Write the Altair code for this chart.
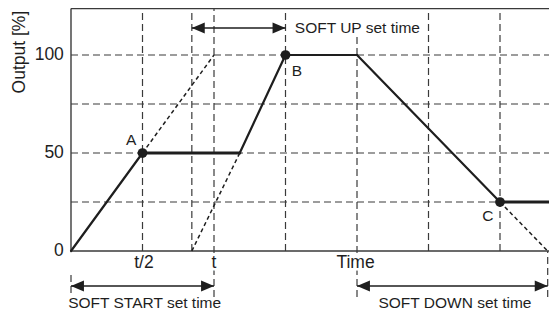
import altair as alt
import pandas as pd

# ---- layout of the diagram in data units (x: multiples of t/2, y: output %) ----
X_MIN, X_MAX = -0.8811, 6.6853
Y_MIN, Y_MAX = -31.12, 123.98

# main output curve (solid)
curve_u = [0, 1, 2.36, 3, 4, 6, 6.685]
curve_v = [0, 50, 50, 100, 100, 25, 25]
curve_w = [2.2, 3.2, 2.2, 2.2, 2.2, 3.2]

# thin dashed extensions
ext_u1 = [1, 1.69, 6]
ext_v1 = [50, 0, 25]
ext_u2 = [2, 2.36, 6.667]
ext_v2 = [100, 50, 0]

# marked points
pt_u = [1, 3, 6]
pt_v = [50, 100, 25]
pt_lab = ["A", "B", "C"]
pt_lab_u = [0.84, 3.16, 5.83]
pt_lab_v = [56.6, 91.8, 17.9]

# grid
hgrid_v = [25, 50, 75, 100]
vgrid_u = [1, 1.69, 2, 3, 4, 5, 6, 0, 6.667]
vgrid_lo = [0, 0, -23.5, 0, -23.5, 0, 0, -12.2, -23.5]
vgrid_hi = [123.7, 123.7, 123.7, 123.7, 109.2, 123.7, 123.7, -23.5, 0]

# y tick labels
ytick_v = [0, 50, 100]
ytick_lab = ["0", "50", "100"]

# x labels
xlab = ["t/2", "t", "Time"]
xlab_u = [1.02, 2.0, 3.98]

# arrows
arr_u1 = [1.69, 0, 4]
arr_u2 = [3.0, 2, 6.667]
arr_v = [113.8, -17.9, -17.9]
arr_text = ["SOFT UP set time", "SOFT START set time", "SOFT DOWN set time"]
arr_text_u = [3.13, 1.03, 5.37]
arr_text_v = [111.2, -29.0, -29.0]
arr_text_align = ["left", "center", "center"]

INK = "#1e1e1e"
GRID = "#3a3a3a"
FONT = "Liberation Sans"
FS = 15.5
FS_AX = 17.5

xs = alt.Scale(domain=[X_MIN, X_MAX], nice=False, zero=False)
ys = alt.Scale(domain=[Y_MIN, Y_MAX], nice=False, zero=False)


def X(f="u"):
    return alt.X(f"{f}:Q", scale=xs, axis=None)


def Y(f="v"):
    return alt.Y(f"{f}:Q", scale=ys, axis=None)


def rules(df, **kw):
    return alt.Chart(df).mark_rule(**kw).encode(
        x=X("u"), y=Y("v"),
        x2=alt.X2("u2:Q"), y2=alt.Y2("v2:Q"))


# horizontal grid
hg = pd.DataFrame({"u": [0] * len(hgrid_v), "u2": [X_MAX] * len(hgrid_v),
                   "v": hgrid_v, "v2": hgrid_v})
vg = pd.DataFrame({"u": vgrid_u, "u2": vgrid_u, "v": vgrid_lo, "v2": vgrid_hi})

grid_h = rules(hg, color=GRID, strokeWidth=1.2, strokeDash=[7, 4])
grid_v = rules(vg, color=GRID, strokeWidth=1.2, strokeDash=[7, 4])

# frame: left axis, bottom axis, top border
frame = pd.DataFrame({"u": [0, 0, 0], "u2": [0, X_MAX, X_MAX],
                      "v": [0, 0, 123.7], "v2": [123.7, 0, 123.7]})
frame_l = rules(frame, color=GRID, strokeWidth=1.4)

# dashed extensions
ext = pd.DataFrame({"u": ext_u1, "v": ext_v1, "u2": ext_u2, "v2": ext_v2})
ext_l = rules(ext, color=INK, strokeWidth=1.5, strokeDash=[4, 3])

# main curve as segments
seg = pd.DataFrame({"u": curve_u[:-1], "v": curve_v[:-1],
                    "u2": curve_u[1:], "v2": curve_v[1:], "w": curve_w})
curve = alt.Chart(seg).mark_rule(color=INK, strokeCap="round").encode(
    x=X("u"), y=Y("v"), x2=alt.X2("u2:Q"), y2=alt.Y2("v2:Q"),
    strokeWidth=alt.StrokeWidth("w:Q", scale=None))

# points
pts = pd.DataFrame({"u": pt_u, "v": pt_v})
points = alt.Chart(pts).mark_point(filled=True, size=95, opacity=1,
                                   color=INK, shape="circle").encode(x=X(), y=Y())

labs = pd.DataFrame({"u": pt_lab_u, "v": pt_lab_v, "t": pt_lab})
pt_text = alt.Chart(labs).mark_text(font=FONT, fontSize=FS, color=INK,
                                    baseline="middle", align="center").encode(
    x=X(), y=Y(), text="t:N")

# y tick labels
yt = pd.DataFrame({"u": [-0.10] * 3, "v": ytick_v, "t": ytick_lab})
ytext = alt.Chart(yt).mark_text(font=FONT, fontSize=FS_AX, color=INK,
                                baseline="middle", align="right").encode(
    x=X(), y=Y(), text="t:N")

# y axis title
yt_title = alt.Chart(pd.DataFrame({"u": [-0.72], "v": [101.5], "t": ["Output [%]"]})).mark_text(
    font=FONT, fontSize=FS_AX, color=INK, angle=270, baseline="middle", align="center").encode(
    x=X(), y=Y(), text="t:N")

# x labels (white halo hides the dashed lines behind them)
xl = pd.DataFrame({"u": xlab_u, "v": [-8.7] * 3, "t": xlab})
xhalo = alt.Chart(xl).mark_text(font=FONT, fontSize=FS_AX, color="white",
                                stroke="white", strokeWidth=5,
                                baseline="alphabetic", align="center").encode(
    x=X(), y=Y(), text="t:N")
xtext = alt.Chart(xl).mark_text(font=FONT, fontSize=FS_AX, color=INK,
                                baseline="alphabetic", align="center").encode(
    x=X(), y=Y(), text="t:N")

# arrows
arr = pd.DataFrame({"u": arr_u1, "u2": arr_u2, "v": arr_v, "v2": arr_v})
arr_shaft = rules(arr, color=INK, strokeWidth=1.5)

HEAD = 0.09
heads_l = pd.DataFrame({"u": [a + HEAD for a in arr_u1], "v": arr_v})
heads_r = pd.DataFrame({"u": [a - HEAD for a in arr_u2], "v": arr_v})
head_left = alt.Chart(heads_l).mark_point(
    shape="M1,-0.85L-1,0L1,0.85Z", size=169, filled=True, opacity=1,
    color=INK, strokeWidth=0).encode(x=X(), y=Y())
head_right = alt.Chart(heads_r).mark_point(
    shape="M-1,-0.85L1,0L-1,0.85Z", size=169, filled=True, opacity=1,
    color=INK, strokeWidth=0).encode(x=X(), y=Y())

at = pd.DataFrame({"u": arr_text_u, "v": arr_text_v, "t": arr_text, "a": arr_text_align})
arr_txt_c = alt.Chart(at[at["a"] == "center"]).mark_text(
    font=FONT, fontSize=FS, color=INK, baseline="alphabetic", align="center").encode(
    x=X(), y=Y(), text="t:N")
arr_txt_l = alt.Chart(at[at["a"] == "left"]).mark_text(
    font=FONT, fontSize=FS, color=INK, baseline="alphabetic", align="left").encode(
    x=X(), y=Y(), text="t:N")

chart = alt.layer(
    grid_h, grid_v, frame_l, ext_l, curve, points, pt_text, ytext, yt_title,
    xhalo, xtext, arr_shaft, head_left, head_right, arr_txt_c, arr_txt_l
).properties(
    width=541, height=304,
    autosize=alt.AutoSizeParams(type="none"),
    padding=0,
    background="white",
).configure_view(stroke=None)

chart.save("out.html", embed_options={"renderer": "svg", "actions": False})
